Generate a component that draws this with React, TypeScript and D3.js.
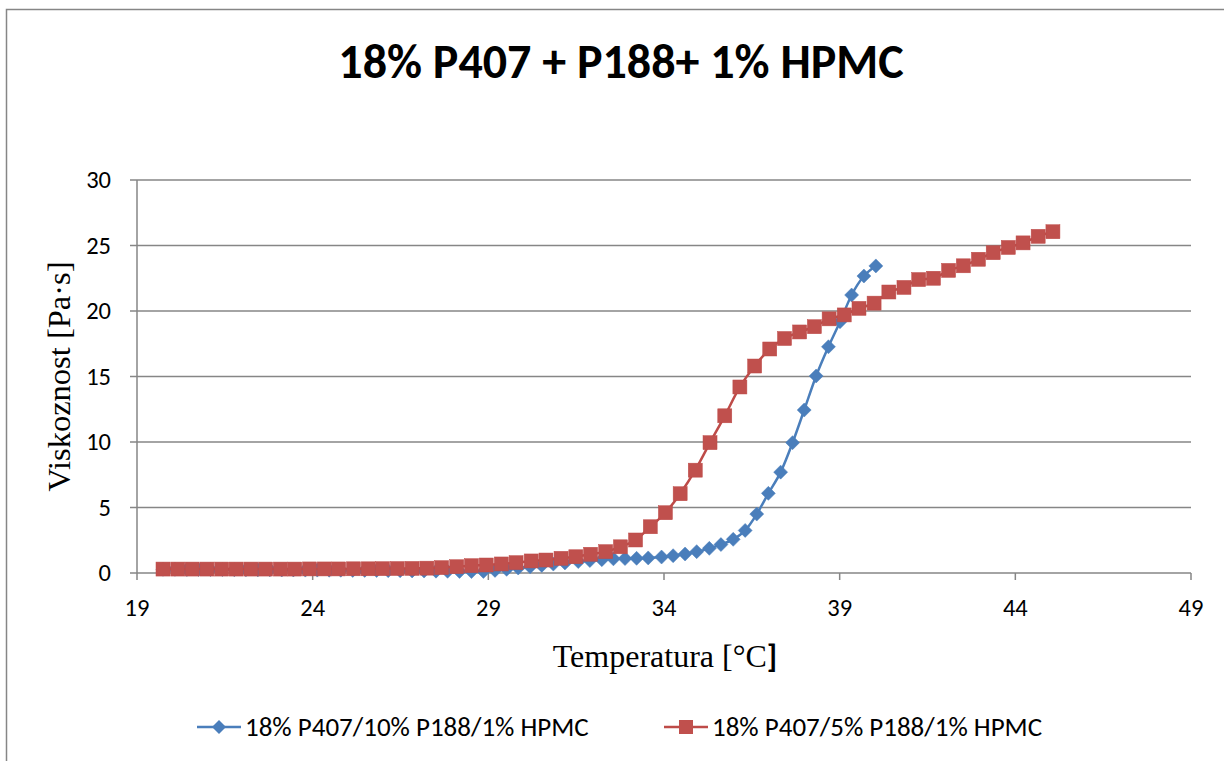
import React from "react";
import * as d3 from "d3";

// Temperature (°C) and viscosity (Pa·s) for 18% P407 / 10% P188 / 1% HPMC
const tempBlue: number[] = [
  19.74, 20.08, 20.42, 20.75, 21.09, 21.43, 21.77, 22.10, 22.44, 22.78,
  23.12, 23.45, 23.79, 24.13, 24.47, 24.80, 25.14, 25.48, 25.82, 26.15,
  26.49, 26.83, 27.17, 27.51, 27.84, 28.18, 28.52,
  28.86, 29.19, 29.52, 29.85, 30.19, 30.52, 30.85, 31.18, 31.56, 31.89,
  32.23, 32.56, 32.89, 33.22, 33.55, 33.93, 34.26, 34.60, 34.93, 35.29,
  35.62, 35.97, 36.31, 36.64, 36.97, 37.32, 37.66, 37.99, 38.33, 38.68,
  39.01, 39.34, 39.69, 40.03,
];
const viscBlue: number[] = [
  0.28, 0.28, 0.27, 0.27, 0.26, 0.26, 0.25, 0.25, 0.24, 0.24,
  0.23, 0.23, 0.22, 0.22, 0.21, 0.21, 0.2, 0.2, 0.19, 0.18,
  0.17, 0.16, 0.15, 0.14, 0.13, 0.12, 0.11,
  0.12, 0.2, 0.28, 0.38, 0.48, 0.58, 0.68, 0.77, 0.87, 0.95,
  1.02, 1.08, 1.1, 1.12, 1.15, 1.22, 1.32, 1.45, 1.63, 1.88,
  2.17, 2.57, 3.25, 4.5, 6.08, 7.7, 9.95, 12.44, 15.04, 17.27,
  19.18, 21.22, 22.67, 23.44,
];

// Temperature (°C) and viscosity (Pa·s) for 18% P407 / 5% P188 / 1% HPMC
const tempRed: number[] = [
  19.74, 20.16, 20.57, 20.99, 21.41, 21.82, 22.24, 22.66, 23.08, 23.49,
  23.91, 24.33, 24.74, 25.16, 25.58, 25.99, 26.41, 26.83,
  27.25, 27.67, 28.10, 28.52, 28.94, 29.37, 29.79, 30.22, 30.64, 31.07,
  31.49, 31.91, 32.34, 32.76, 33.19, 33.61, 34.04, 34.46, 34.89, 35.31,
  35.73, 36.16, 36.58, 37.01, 37.43, 37.86, 38.28, 38.70, 39.13, 39.55,
  39.98, 40.40, 40.83, 41.25, 41.67, 42.10, 42.52, 42.95, 43.37, 43.80,
  44.22, 44.65, 45.07,
];
const viscRed: number[] = [
  0.3, 0.3, 0.3, 0.3, 0.3, 0.3, 0.3, 0.3, 0.3, 0.3,
  0.31, 0.31, 0.31, 0.32, 0.32, 0.33, 0.34, 0.35,
  0.37, 0.41, 0.48, 0.56, 0.61, 0.69, 0.79, 0.92, 0.99, 1.12,
  1.24, 1.43, 1.63, 2.0, 2.52, 3.53, 4.6, 6.05, 7.85, 9.95,
  12.0, 14.2, 15.8, 17.1, 17.9, 18.4, 18.8, 19.4, 19.7, 20.2,
  20.6, 21.45, 21.8, 22.4, 22.5, 23.1, 23.45, 23.95, 24.45, 24.85,
  25.2, 25.7, 26.05,
];

const xTicks: number[] = [19, 24, 29, 34, 39, 44, 49];
const yTicks: number[] = [0, 5, 10, 15, 20, 25, 30];

const seriesNames: string[] = [
  "18% P407/10% P188/1% HPMC",
  "18% P407/5% P188/1% HPMC",
];
const titleText = "18% P407 + P188+ 1% HPMC";

const W = 1224;
const H = 761;
const plot = { left: 137, right: 1191, top: 180, bottom: 573 };

const BLUE = "#4A7EBB";
const RED = "#BE4B48";
const RED_FILL = "#C0504D";
const GRID = "#868686";
const SANS = "Carlito, Calibri, 'Liberation Sans', Arial, sans-serif";
const SERIF = "'Liberation Serif', 'Times New Roman', serif";

type Pt = { t: number; v: number };

export default function App() {
  const x = d3.scaleLinear().domain([19, 49]).range([plot.left, plot.right]);
  const y = d3.scaleLinear().domain([0, 30]).range([plot.bottom, plot.top]);

  const blue: Pt[] = tempBlue.map((t, i) => ({ t, v: viscBlue[i] }));
  const red: Pt[] = tempRed.map((t, i) => ({ t, v: viscRed[i] }));

  const line = d3
    .line<Pt>()
    .x((d) => x(d.t))
    .y((d) => y(d.v))
    .curve(d3.curveMonotoneX);

  const diamond = (cx: number, cy: number, r: number) =>
    `M${cx},${cy - r}L${cx + r},${cy}L${cx},${cy + r}L${cx - r},${cy}Z`;

  const sq = 14;
  const dr = 7;

  const legendY = 727;

  return (
    <svg
      width={W}
      height={H}
      style={{ position: "absolute", left: 0, top: 0, background: "#fff" }}
    >
      {/* outer chart frame */}
      <rect x={6.5} y={9.5} width={W + 20} height={H + 20} fill="#fff" stroke={GRID} strokeWidth={1.5} />

      <text
        x={621}
        y={78}
        textAnchor="middle"
        fontFamily={SANS}
        fontWeight="bold"
        fontSize={48}
        fill="#000"
      >
        {titleText}
      </text>

      {/* horizontal gridlines */}
      {yTicks.map((t) => (
        <line
          key={`g${t}`}
          x1={plot.left - 7}
          x2={plot.right}
          y1={y(t)}
          y2={y(t)}
          stroke={GRID}
          strokeWidth={1.5}
        />
      ))}
      {/* y axis */}
      <line x1={plot.left} x2={plot.left} y1={plot.top} y2={plot.bottom} stroke={GRID} strokeWidth={1.5} />
      {/* x tick marks */}
      {xTicks.map((t) => (
        <line key={`xt${t}`} x1={x(t)} x2={x(t)} y1={plot.bottom} y2={plot.bottom + 7} stroke={GRID} strokeWidth={1.5} />
      ))}

      {/* y tick labels */}
      {yTicks.map((t) => (
        <text
          key={`yl${t}`}
          x={111}
          y={y(t) + 8}
          textAnchor="end"
          fontFamily={SANS}
          fontSize={24.5}
          fill="#000"
        >
          {t}
        </text>
      ))}
      {/* x tick labels */}
      {xTicks.map((t) => (
        <text
          key={`xl${t}`}
          x={x(t)}
          y={616}
          textAnchor="middle"
          fontFamily={SANS}
          fontSize={24.5}
          fill="#000"
        >
          {t}
        </text>
      ))}

      {/* axis titles */}
      <text
        transform={`translate(70,${(plot.top + plot.bottom) / 2}) rotate(-90)`}
        textAnchor="middle"
        fontFamily={SERIF}
        fontSize={32.5}
        fill="#000"
      >
        Viskoznost [Pa·s]
      </text>
      <text x={665} y={667} textAnchor="middle" fontFamily={SERIF} fontSize={32} fill="#000">
        Temperatura [°C<tspan fontFamily={SANS} fontWeight="bold">]</tspan>
      </text>

      {/* blue series */}
      <path d={line(blue) ?? ""} fill="none" stroke={BLUE} strokeWidth={2.5} />
      {blue.map((d, i) => (
        <path key={`b${i}`} d={diamond(x(d.t), y(d.v), dr)} fill={BLUE} stroke={BLUE} strokeWidth={0.5} />
      ))}

      {/* red series */}
      <path d={line(red) ?? ""} fill="none" stroke={RED} strokeWidth={2.5} />
      {red.map((d, i) => (
        <rect
          key={`r${i}`}
          x={x(d.t) - sq / 2}
          y={y(d.v) - sq / 2}
          width={sq}
          height={sq}
          fill={RED_FILL}
          stroke={RED}
          strokeWidth={0.5}
        />
      ))}

      {/* legend */}
      <line x1={197} x2={241} y1={legendY} y2={legendY} stroke={BLUE} strokeWidth={2.5} />
      <path d={diamond(219, legendY, dr)} fill={BLUE} />
      <text x={245} y={legendY + 9} fontFamily={SANS} fontSize={27} fill="#000">
        {seriesNames[0]}
      </text>
      <line x1={664} x2={708} y1={legendY} y2={legendY} stroke={RED} strokeWidth={2.5} />
      <rect x={686 - sq / 2} y={legendY - sq / 2} width={sq} height={sq} fill={RED_FILL} />
      <text x={712} y={legendY + 9} fontFamily={SANS} fontSize={27} fill="#000">
        {seriesNames[1]}
      </text>
    </svg>
  );
}
